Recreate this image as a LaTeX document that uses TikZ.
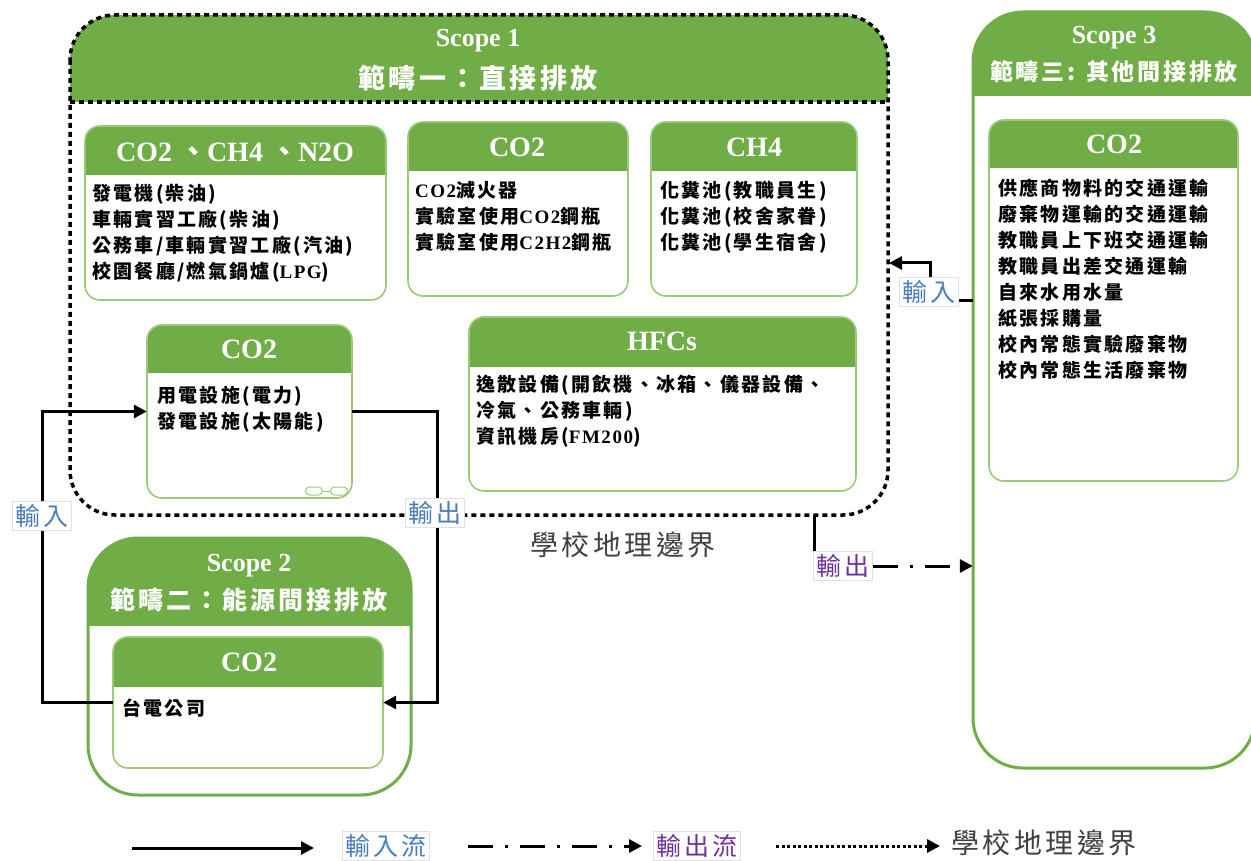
\documentclass[tikz,border=0pt]{standalone}
\usepackage{fontspec}
\setmainfont{Liberation Serif}
\newfontfamily\cjk[LetterSpace=12]{Noto Sans CJK TC}
\newfontfamily\lt[LetterSpace=8]{Liberation Serif}
\usetikzlibrary{arrows.meta}
\definecolor{hgreen}{HTML}{70AD47}
\definecolor{lgreen}{HTML}{9BCB7A}
\definecolor{inblue}{HTML}{4A7EBB}
\definecolor{outpurple}{HTML}{7030A0}
\definecolor{bgray}{HTML}{404040}
% #1 name, #2 x1, #3 y1, #4 x2, #5 y2, #6 header bottom, #7 radius, #8 border style
\newcommand\gbox[8]{%
  \node[inner sep=0pt, minimum width={#4-#2}, minimum height={#5-#3}] (#1) at ({(#2+#4)/2},{(#3+#5)/2}) {};
  \begin{scope}
    \clip[rounded corners=#7] (#2,#3) rectangle (#4,#5);
    \fill[hdr] (#2,#3) rectangle (#4,#6);
  \end{scope}
  \draw[#8, rounded corners=#7] (#2,#3) rectangle (#4,#5);
}
\begin{document}
\begin{tikzpicture}[x=1pt,y=-1pt,
  hdr/.style={fill=hgreen},
  inb/.style={draw=lgreen, line width=1.6pt},
  outb/.style={draw=hgreen, line width=3pt},
  bound/.style={line width=3.5pt, dash pattern=on 5pt off 4pt},
  ttl/.style={text=white, inner sep=0pt, font=\fontsize{26}{30}\selectfont\bfseries},
  ttlc/.style={text=white, inner sep=0pt, font=\cjk\bfseries\fontsize{27}{30}\selectfont},
  hd/.style={text=white, inner sep=0pt, font=\fontsize{28}{32}\selectfont\bfseries},
  items/.style={anchor=north west, inner sep=0pt, align=left, font=\cjk\bfseries\fontsize{19}{26}\selectfont},
  flow/.style={line width=3pt, -{Triangle[length=13pt,width=13pt]}},
  plainflow/.style={line width=3pt},
  ddflow/.style={line width=3pt, dash pattern=on 25pt off 12pt on 3pt off 12pt, -{Triangle[length=13pt,width=13pt]}},
  dotflow/.style={line width=3pt, dash pattern=on 3pt off 2.5pt, -{Triangle[length=13pt,width=13pt]}},
  lab/.style={fill=white, draw=black!12, line width=0.6pt, inner sep=3pt, font=\cjk\fontsize{25}{27}\selectfont},
]
\useasboundingbox[fill=white] (0,0) rectangle (1251,861);

% ---------- Scope 1 ----------
\gbox{S1}{70}{15}{888}{515}{102}{45pt}{draw=none}
\draw[bound, rounded corners=45pt] (70,15) rectangle (888,515);
\draw[bound] (70,102) -- (888,102);
\node[ttl] (s1t) at (478,41) {Scope 1};
\node[ttlc] (s1c) at (478,78) {範疇一：直接排放};

% Box A
\gbox{A}{85}{126}{386}{300}{175}{15pt}{inb}
\node[hd] (At) at (235,152) {CO2 {\cjk 、}CH4 {\cjk 、}N2O};
\node[items] (Ai) at (92,184) {發電機(柴油)\\車輛實習工廠(柴油)\\公務車/車輛實習工廠(汽油)\\校園餐廳/燃氣鍋爐({\lt LPG})};

% Box B
\gbox{B}{408}{122}{628}{296}{171}{15pt}{inb}
\node[hd] (Bt) at (517,147) {CO2};
\node[items] (Bi) at (415,181) {{\lt CO2}滅火器\\實驗室使用{\lt CO2}鋼瓶\\實驗室使用{\lt C2H2}鋼瓶};

% Box C
\gbox{C}{651}{122}{857}{296}{171}{15pt}{inb}
\node[hd] (Ct) at (754,147) {CH4};
\node[items] (Ci) at (660,181) {化糞池(教職員生)\\化糞池(校舍家眷)\\化糞池(學生宿舍)};

% Box D
\gbox{D}{147}{325}{352}{498}{373}{15pt}{inb}
\node[hd] (Dt) at (249,349) {CO2};
\node[items] (Di) at (157,386) {用電設施(電力)\\發電設施(太陽能)};
\node[draw=lgreen, line width=1pt, rounded corners=4pt, minimum width=17pt, minimum height=8pt, inner sep=0pt] (o1) at (314,491) {};
\node[draw=lgreen, line width=1pt, rounded corners=4pt, minimum width=17pt, minimum height=8pt, inner sep=0pt] (o2) at (339,491) {};
\draw[lgreen, line width=1pt] (o1) -- (o2);

% Box E
\gbox{E}{469}{317}{856}{491}{367}{15pt}{inb}
\node[hd] (Et) at (662,341) {HFCs};
\node[items] (Ei) at (476,375) {逸散設備(開飲機、冰箱、儀器設備、\\冷氣、公務車輛)\\資訊機房({\lt FM200})};

% ---------- Scope 2 ----------
\gbox{S2}{88}{538}{411}{795}{626}{50pt}{outb}
\node[ttl] (s2t) at (249,566) {Scope 2};
\node[ttlc, font=\cjk\bfseries\fontsize{25}{28}\selectfont] (s2c) at (249,600) {範疇二：能源間接排放};
\gbox{S2in}{113}{637}{383}{768}{687}{15pt}{inb}
\node[hd] (S2t) at (249,662) {CO2};
\node[items] (S2i) at (122,699) {台電公司};

% ---------- Scope 3 ----------
\gbox{S3}{973}{12}{1255}{768}{96}{50pt}{outb}
\node[ttl] (s3t) at (1114,38) {Scope 3};
\node[ttlc, font=\cjk\bfseries\fontsize{23}{26}\selectfont] (s3c) at (1114,72) {範疇三: 其他間接排放};
\gbox{S3in}{989}{120}{1238}{481}{168}{15pt}{inb}
\node[hd] (S3t) at (1114,144) {CO2};
\node[items] (S3i) at (998,179) {供應商物料的交通運輸\\廢棄物運輸的交通運輸\\教職員上下班交通運輸\\教職員出差交通運輸\\自來水用水量\\紙張採購量\\校內常態實驗廢棄物\\校內常態生活廢棄物};

% boundary label
\node[inner sep=0pt, text=bgray, font=\cjk\fontsize{28}{30}\selectfont] (bnd) at (623,545) {學校地理邊界};

% ---------- connectors ----------
\coordinate (c1) at (42,560);
\coordinate (c2) at (437,560);
\draw[flow] (S2in.west) -| (c1) |- (D.west);
\draw[flow] (D.east) -| (c2) |- (S2in.east);
\node[lab, text=inblue] (in1) at (42,516) {輸入};
\node[lab, text=inblue] (out1) at (435,513) {輸出};

\coordinate (s3in) at (973,301);
\coordinate (c3) at (930,285);
\coordinate (s1in) at (889,263);
\draw[flow] (s3in) -| (c3) |- (s1in);
\node[lab, text=inblue] (in3) at (929,292) {輸入};

\coordinate (s1out) at (814,515);
\node[lab, text=outpurple] (out3) at (843,566) {輸出};
\draw[plainflow] (s1out) -- (s1out |- out3.north);
\draw[ddflow] (out3.east) -- (out3.east -| S3.west);

% ---------- legend ----------
\coordinate (lg1) at (132,848);
\coordinate (lg2) at (314,848);
\draw[flow] (lg1) -- (lg2);
\node[lab, text=inblue] (lgin) at (386,846) {輸入流};
\coordinate (lg3) at (468,846);
\coordinate (lg4) at (642,846);
\draw[ddflow] (lg3) -- (lg4);
\node[lab, text=outpurple] (lgout) at (697,846) {輸出流};
\coordinate (lg5) at (776,846);
\coordinate (lg6) at (940,846);
\draw[dotflow] (lg5) -- (lg6);
\node[inner sep=0pt, text=bgray, font=\cjk\fontsize{28}{30}\selectfont] (lgb) at (1044,843) {學校地理邊界};
\end{tikzpicture}
\end{document}
